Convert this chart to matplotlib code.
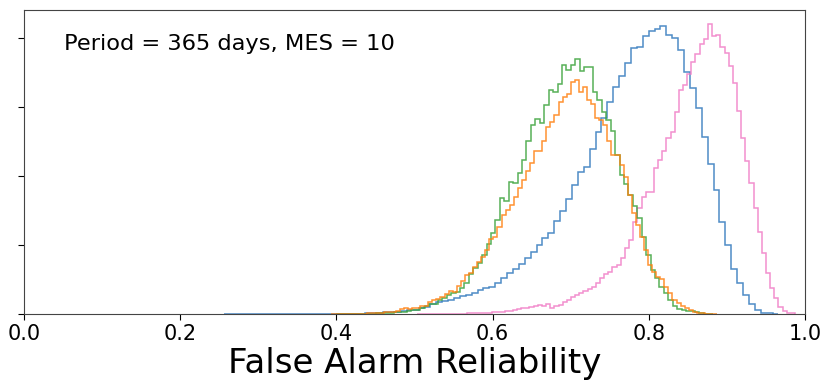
import numpy as np
import matplotlib
matplotlib.use("Agg")
import matplotlib.pyplot as plt

# ---- data: histogram counts per bin, first bin edge and bin width per series ----
blue_start, blue_width = 0.25596, 0.007554
blue_counts = [0, 1, 1, 1, 1, 1, 1, 2, 1, 2, 2, 2, 2, 2, 3, 2, 3, 3, 3, 3,
               4, 4, 6, 7, 10, 13, 17, 22, 28, 35, 44, 54, 65, 80, 101, 138, 167, 193, 210, 232,
               261, 283, 312, 348, 377, 387, 445, 526, 590, 652, 721, 808, 903, 1000, 1106, 1179,
               1353, 1493, 1667, 1870, 2055, 2136, 2392, 2643, 2842, 3069, 3296, 3455, 3643, 3857,
               3875, 4031, 4107, 4132, 4180, 4045, 3997, 3828, 3509, 3277, 2991, 2570, 2170, 1798,
               1338, 1000, 652, 454, 275, 140, 58, 19, 10, 3]

pink_start, pink_width = 0.50371, 0.005314
pink_counts = [1, 2, 2, 3, 3, 3,
               4, 4, 6, 6, 7, 7, 9, 9, 10,
               12, 14, 19, 22, 29, 33, 43, 48, 58, 68, 80, 94, 101, 116, 130, 123, 145, 94, 116, 130,
               170, 203, 251, 275, 309, 338, 358, 387, 454, 526, 580, 613, 686, 710, 808, 953, 1073,
               1334, 1541, 1701, 1765, 1773, 2113, 2233, 2364, 2548, 2643, 2933, 3248, 3321, 3476,
               3658, 3766, 3911, 3988, 4201,
               4035, 4046, 3876, 3780, 3596, 3345, 2944, 2556, 2223, 1895, 1533, 1193, 880, 590,
               373, 228, 97, 48, 19, 10]

green_start, green_width = 0.39949, 0.005672
green_counts = [1, 1, 1, 2, 3, 4, 4, 6, 7, 9, 12, 14, 19, 23, 29, 36, 43, 54, 65, 80, 109, 138,
                152, 196, 232,
                276, 305, 319, 377, 450, 580, 667, 740, 856, 1015, 1179, 1363, 1678, 1643, 1918,
                1895, 2045, 2233, 2513, 2741, 2828, 2774, 3031, 3248, 3224, 3335, 3611, 3538, 3611,
                3693, 3528, 3577, 3577, 3224, 3103, 2934, 2813, 2658, 2306, 2016, 1885, 1726, 1570,
                1392, 1121, 856, 638, 518, 396, 300, 203, 120, 73, 65, 44, 39, 25, 15, 7, 3]

orange_start, orange_width = 0.39257, 0.005211
orange_counts = [1, 1, 1, 2, 3, 4, 4, 6, 7, 9, 12, 14, 17, 22, 29, 36, 43, 68, 80, 72, 80, 94,
                 109, 123, 167, 203, 225, 254, 290,
                 334, 319, 406, 478, 566, 594, 682, 754, 826, 928, 1095, 1121, 1262, 1436, 1508,
                 1581, 1697, 1823, 1943, 2078, 2190, 2368, 2368, 2513, 2716, 2788, 2886, 3078, 3142,
                 3190, 3368, 3393, 3224, 3287, 3103, 3045, 2838, 2813, 2741, 2513, 2306, 2306, 2161,
                 1991, 1726, 1469, 1291, 1117, 928, 711, 613, 537, 508, 392, 305, 203, 160, 116, 87,
                 58, 33, 19, 10, 6, 3, 1]

series = [
    (blue_start, blue_width, blue_counts, "#2f78bd"),
    (pink_start, pink_width, pink_counts, "#f07cc6"),
    (green_start, green_width, green_counts, "#3aa33a"),
    (orange_start, orange_width, orange_counts, "#ff7f0e"),
]

xticks = [0.0, 0.2, 0.4, 0.6, 0.8, 1.0]
yticks = [0, 1000, 2000, 3000, 4000]
annotation = "Period = 365 days, MES = 10"
xlabel = "False Alarm Reliability"

fig = plt.figure(figsize=(8.3, 3.86), dpi=100)
ax = fig.add_axes([0.0289, 0.1865, 0.9410, 0.7876])

for start, width, counts, color in series:
    counts = np.asarray(counts, dtype=float)
    edges = start + width * np.arange(len(counts) + 1)
    ax.hist(edges[:-1] + width / 2, bins=edges, weights=counts, histtype="step",
            color=color, alpha=0.85, linewidth=1.1)

ax.set_xlim(0, 1)
ax.set_ylim(0, 4410)
ax.set_xticks(xticks)
ax.set_xticklabels([f"{t:.1f}" for t in xticks], fontsize=15)
ax.set_yticks(yticks)
ax.set_yticklabels([])
ax.tick_params(direction="out", length=4)
ax.set_xlabel(xlabel, fontsize=24.5, labelpad=2)
ax.text(0.051, 0.868, annotation, transform=ax.transAxes, fontsize=16.2,
        va="baseline", ha="left")

for s in ax.spines.values():
    s.set_color("#444444")

fig.savefig("out.png", dpi=100)
